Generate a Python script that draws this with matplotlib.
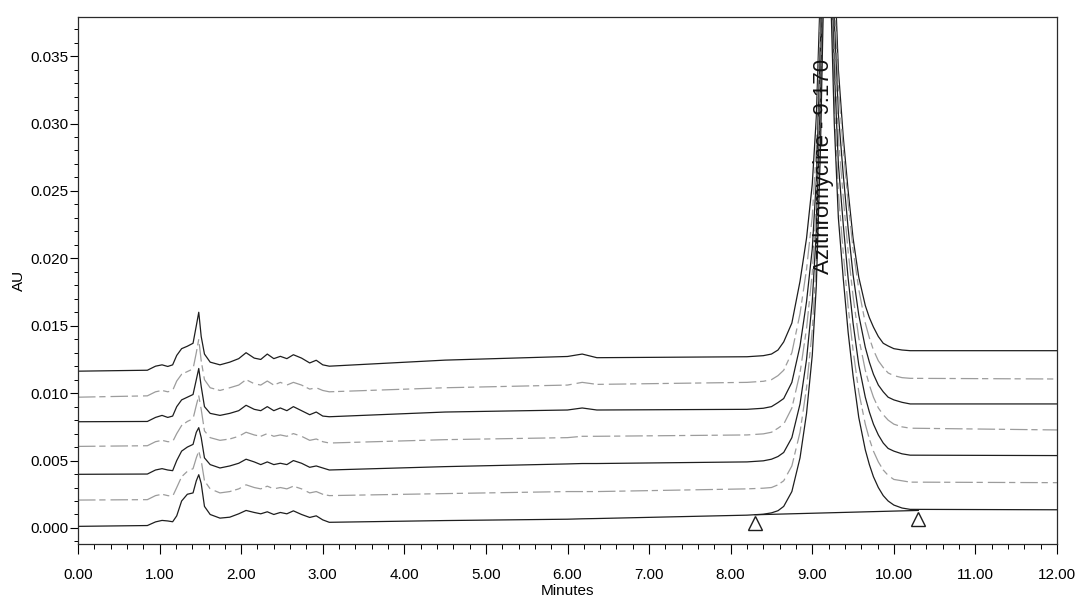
'''
Azithromycine chromatogram overlay, 7 injections
'''

import numpy as np
import matplotlib.pyplot as plt

plt.rcParams['font.family'] = ['Liberation Sans', 'DejaVu Sans']

# retention time grid (min), shared by all traces
t_min = [0.00, 0.85, 0.95, 1.03, 1.10, 1.16, 1.21, 1.27, 1.34, 1.41, 1.45, 1.48, 1.51, 1.55,
         1.62, 1.74, 1.86, 1.97, 2.06, 2.16, 2.24, 2.32, 2.40, 2.48, 2.56, 2.64, 2.74, 2.84,
         2.92, 3.00, 3.08, 4.50, 6.00, 6.18, 6.36, 8.20, 8.40, 8.50, 8.58, 8.65, 8.75, 8.85,
         8.93, 9.00, 9.05, 9.10, 9.14, 9.18, 9.22, 9.27, 9.32, 9.38, 9.44, 9.50, 9.57, 9.65,
         9.70, 9.75, 9.81, 9.87, 9.93, 10.00, 10.10, 10.20, 12.00]

# absorbance (AU), top trace first
inj1 = [0.01163, 0.0117, 0.0120, 0.0121, 0.01198, 0.0121, 0.0128, 0.0133, 0.01348, 0.0137,
        0.0150, 0.0160, 0.0142, 0.0129, 0.0123, 0.0121, 0.0123, 0.01256, 0.0130, 0.0126,
        0.0125, 0.0129, 0.01256, 0.01273, 0.01256, 0.01285, 0.0126, 0.01224, 0.01244, 0.0121,
        0.0120, 0.01245, 0.01272, 0.0129, 0.01263, 0.0127, 0.01278, 0.0129, 0.0132, 0.0138,
        0.0152, 0.0183, 0.0215, 0.0255, 0.0305, 0.0400, 0.0520, 0.0580, 0.0530, 0.0420,
        0.0340, 0.0290, 0.0250, 0.0215, 0.0186, 0.0165, 0.0156, 0.0149, 0.0142, 0.0137,
        0.0135, 0.0133, 0.0132, 0.01315, 0.01315]
inj2 = [0.0097, 0.0098, 0.0101, 0.0102, 0.0101, 0.0102, 0.0109, 0.0114, 0.0116, 0.0118,
        0.0130, 0.0140, 0.0124, 0.0110, 0.0104, 0.0102, 0.0104, 0.0106, 0.0110, 0.0107,
        0.0106, 0.0109, 0.0106, 0.0108, 0.0106, 0.0108, 0.0106, 0.0103, 0.0104, 0.0102,
        0.0101, 0.0104, 0.0106, 0.0108, 0.01065, 0.0108, 0.01088, 0.0110, 0.0113, 0.0117,
        0.0130, 0.0159, 0.0192, 0.0231, 0.0281, 0.0378, 0.0497, 0.0567, 0.0507, 0.0397,
        0.0327, 0.0281, 0.0241, 0.0207, 0.0177, 0.0152, 0.0141, 0.0132, 0.0124, 0.0119,
        0.0115, 0.0113, 0.01115, 0.0111, 0.01105]
inj3 = [0.00788, 0.0079, 0.0082, 0.00835, 0.0082, 0.0083, 0.0090, 0.0095, 0.0097, 0.0099,
        0.0110, 0.01183, 0.0105, 0.0090, 0.0085, 0.00835, 0.0085, 0.0087, 0.0091, 0.0088,
        0.0087, 0.0090, 0.0087, 0.0089, 0.0087, 0.0090, 0.0087, 0.0084, 0.0086, 0.0083,
        0.00825, 0.0086, 0.00875, 0.0089, 0.00875, 0.0088, 0.00888, 0.0090, 0.0093, 0.0096,
        0.0108, 0.0135, 0.0168, 0.0207, 0.0258, 0.0357, 0.0477, 0.0547, 0.0487, 0.0377,
        0.0307, 0.0262, 0.0222, 0.0188, 0.0158, 0.0134, 0.0123, 0.0114, 0.0106, 0.0101,
        0.0097, 0.0095, 0.00932, 0.0092, 0.0092]
inj4 = [0.00605, 0.0061, 0.0064, 0.0065, 0.0064, 0.0064, 0.0070, 0.0076, 0.0079, 0.0081,
        0.0091, 0.0098, 0.0088, 0.0072, 0.0067, 0.0065, 0.0066, 0.0068, 0.0071, 0.0069,
        0.0068, 0.0070, 0.0068, 0.0069, 0.0068, 0.0070, 0.0068, 0.0065, 0.0066, 0.0064,
        0.0063, 0.00655, 0.0067, 0.0068, 0.0068, 0.0069, 0.00698, 0.0071, 0.0074, 0.0077,
        0.0089, 0.0115, 0.0148, 0.0189, 0.0240, 0.0340, 0.0460, 0.0530, 0.0470, 0.0360,
        0.0290, 0.0245, 0.0205, 0.0172, 0.0141, 0.0117, 0.0106, 0.0097, 0.0089, 0.0084,
        0.0080, 0.0077, 0.0075, 0.0074, 0.00727]
inj5 = [0.00398, 0.0040, 0.0043, 0.0044, 0.0043, 0.00425, 0.0050, 0.0057, 0.0060, 0.0062,
        0.0071, 0.00744, 0.0067, 0.0052, 0.0047, 0.00445, 0.0046, 0.0048, 0.0051, 0.0049,
        0.0047, 0.0049, 0.0047, 0.0048, 0.0047, 0.0050, 0.0048, 0.0045, 0.0046, 0.00445,
        0.0043, 0.00455, 0.00475, 0.00478, 0.00478, 0.0049, 0.00498, 0.0051, 0.0053, 0.0056,
        0.0067, 0.0092, 0.0125, 0.0168, 0.0220, 0.0320, 0.0440, 0.0510, 0.0450, 0.0340,
        0.0270, 0.0225, 0.0185, 0.0152, 0.0121, 0.0097, 0.0086, 0.0077, 0.0069, 0.0063,
        0.0059, 0.0057, 0.0055, 0.0054, 0.00537]
inj6 = [0.00207, 0.0021, 0.0024, 0.0025, 0.0024, 0.00235, 0.0030, 0.0038, 0.0042, 0.0044,
        0.0052, 0.0057, 0.0050, 0.0035, 0.0029, 0.0026, 0.0027, 0.0029, 0.0032, 0.0030,
        0.0029, 0.0031, 0.0029, 0.0030, 0.0029, 0.0031, 0.0029, 0.0026, 0.0027, 0.0025,
        0.0024, 0.00255, 0.0027, 0.0027, 0.0027, 0.0029, 0.00295, 0.0030, 0.0032, 0.0035,
        0.0046, 0.0071, 0.0104, 0.0147, 0.0199, 0.0299, 0.0419, 0.0489, 0.0429, 0.0319,
        0.0249, 0.0204, 0.0164, 0.0132, 0.0101, 0.0077, 0.0066, 0.0057, 0.0049, 0.0043,
        0.0039, 0.0036, 0.0035, 0.0034, 0.00336]
inj7 = [0.00012, 0.00018, 0.00045, 0.00056, 0.00052, 0.00046, 0.0009, 0.0020, 0.0025, 0.0026,
        0.0035, 0.00395, 0.0033, 0.0016, 0.0010, 0.00073, 0.0008, 0.00105, 0.0013, 0.00115,
        0.00105, 0.0012, 0.0010, 0.00115, 0.00105, 0.00127, 0.0010, 0.00078, 0.0009, 0.0006,
        0.00042, 0.00055, 0.00065, 0.00068, 0.0007, 0.00095, 0.00102, 0.00112, 0.00128, 0.0016,
        0.0027, 0.0052, 0.0085, 0.0128, 0.0180, 0.0280, 0.0400, 0.0470, 0.0410, 0.0300,
        0.0230, 0.0185, 0.0145, 0.0113, 0.0082, 0.0058, 0.0047, 0.0038, 0.0030, 0.0024,
        0.0020, 0.0017, 0.00148, 0.00138, 0.00135]

# integration baseline drawn under the last injection
base_t = [8.30, 10.30]
base_au = [0.00098, 0.0013]
marker_au = [0.0004, 0.0007]

peak_rt = 9.170
peak_name = 'Azithromycine'

fig = plt.figure(figsize=(10.85, 5.99), dpi=100)
ax = fig.add_axes([0.0719, 0.0918, 0.9023, 0.8798])

solid = dict(color='#1e1e1e', lw=0.9)
faint = dict(color='#9c9c9c', lw=0.9, ls=(0, (14, 3, 5, 4)))

for y, style in zip([inj1, inj2, inj3, inj4, inj5, inj6, inj7],
                    [solid, faint, solid, faint, solid, faint, solid]):
    ax.plot(t_min, y, **style)

ax.plot(base_t, base_au, color='#1e1e1e', lw=0.9)
ax.plot(base_t, marker_au, ls='none', marker='^', markersize=10,
        mfc='white', mec='#1e1e1e', mew=1.0)

ax.text(peak_rt - 0.03, 0.0268, '%s - %.3f' % (peak_name, peak_rt), rotation=90,
        ha='center', va='center', fontsize=16, color='#111111')

ax.set_xlim(0, 12)
ax.set_ylim(-0.00119, 0.0379)
ax.set_xticks(np.arange(0, 12.01, 1.0))
ax.set_xticks(np.arange(0, 12.01, 0.2), minor=True)
ax.set_xticklabels(['%.2f' % v for v in np.arange(0, 12.01, 1.0)])
ax.set_yticks(np.arange(0, 0.0351, 0.005))
ax.set_yticks(np.arange(-0.001, 0.0376, 0.001), minor=True)
ax.set_yticklabels(['%.3f' % v for v in np.arange(0, 0.0351, 0.005)])

ax.tick_params(axis='x', which='major', length=7.5, width=0.8, pad=10, labelsize=11)
ax.tick_params(axis='x', which='minor', length=3.5, width=0.7)
ax.tick_params(axis='y', which='major', length=5.5, width=0.8, pad=1.5, labelsize=11)
ax.tick_params(axis='y', which='minor', length=3, width=0.7)
for s in ax.spines.values():
    s.set_linewidth(0.9)
    s.set_color('#2a2a2a')

ax.set_xlabel('Minutes', fontsize=11, labelpad=1)
ax.set_ylabel('AU', fontsize=11, labelpad=3)

plt.savefig('out.png', dpi=100, format='png')
